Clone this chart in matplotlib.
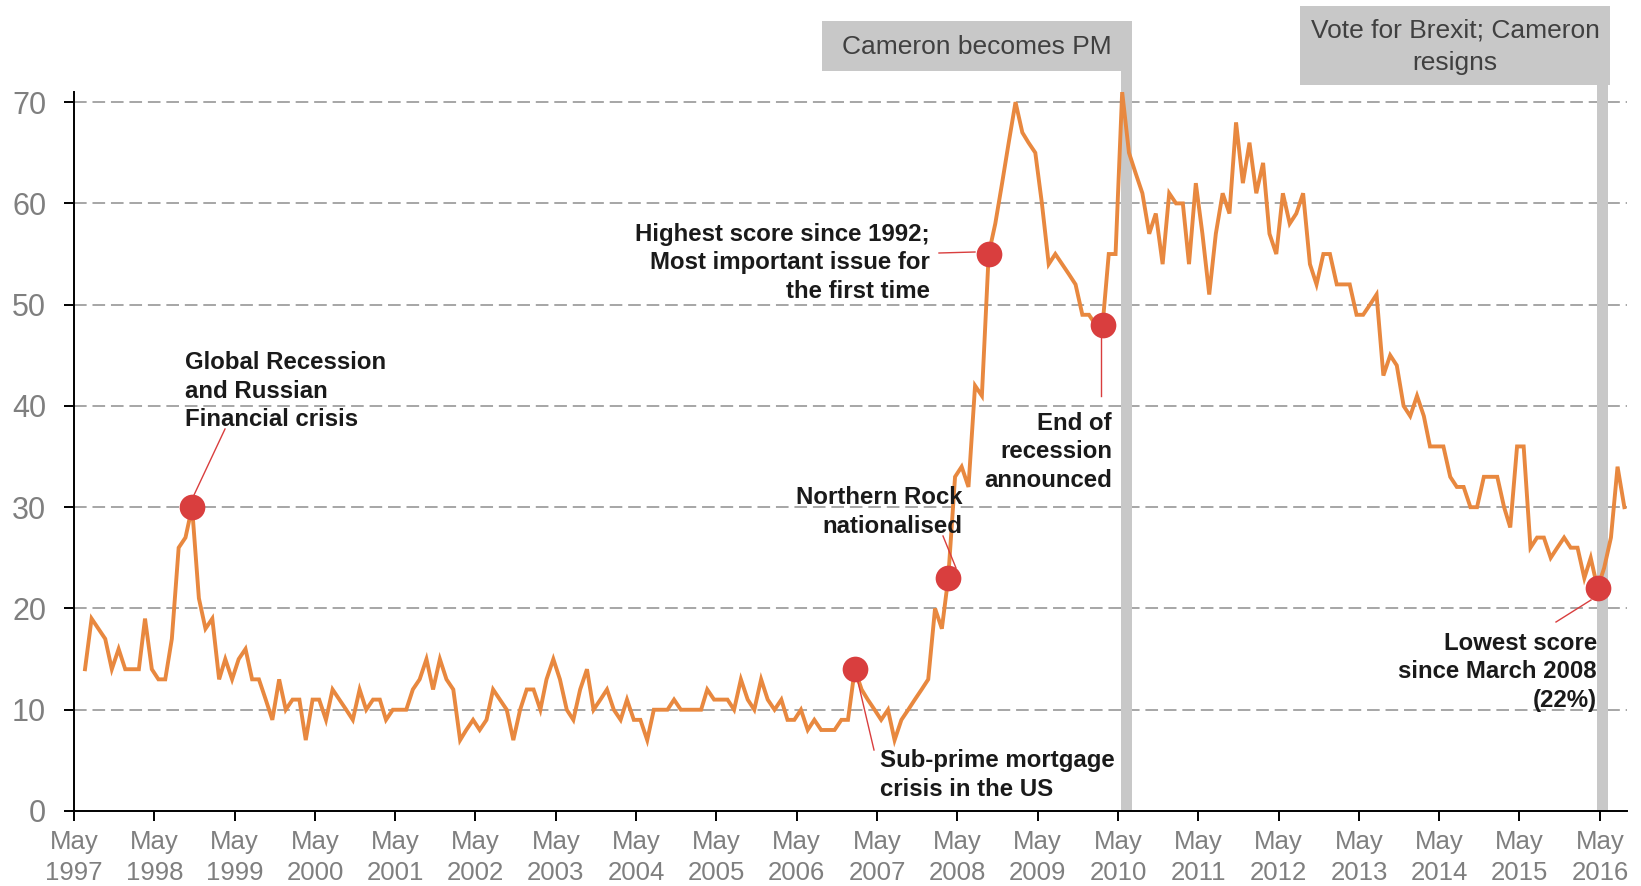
import numpy as np
import pandas as pd
import matplotlib
matplotlib.use("Agg")
import matplotlib.pyplot as plt
import matplotlib.dates as mdates
from matplotlib.patches import Rectangle

plt.rcParams['font.family'] = ['Liberation Sans', 'DejaVu Sans']

# share naming the economy as an important issue, monthly from mid 1997
scores = [14, 19, 18, 17, 14, 16, 14, 14, 14, 19,
          14, 13, 13, 17, 26, 27, 30, 21, 18, 19,
          13, 15, 13, 15, 16, 13, 13, 11, 9, 13,
          10, 11, 11, 7, 11, 11, 9, 12, 11, 10,
          9, 12, 10, 11, 11, 9, 10, 10, 10, 12,
          13, 15, 12, 15, 13, 12, 7, 8, 9, 8,
          9, 12, 11, 10, 7, 10, 12, 12, 10, 13,
          15, 13, 10, 9, 12, 14, 10, 11, 12, 10,
          9, 11, 9, 9, 7, 10, 10, 10, 11, 10,
          10, 10, 10, 12, 11, 11, 11, 10, 13, 11,
          10, 13, 11, 10, 11, 9, 9, 10, 8, 9,
          8, 8, 8, 9, 9, 14, 12, 11, 10, 9,
          10, 7, 9, 10, 11, 12, 13, 20, 18, 23,
          33, 34, 32, 42, 41, 55, 58, 62, 66, 70,
          67, 66, 65, 60, 54, 55, 54, 53, 52, 49,
          49, 48, 48, 55, 55, 71, 65, 63, 61, 57,
          59, 54, 61, 60, 60, 54, 62, 57, 51, 57,
          61, 59, 68, 62, 66, 61, 64, 57, 55, 61,
          58, 59, 61, 54, 52, 55, 55, 52, 52, 52,
          49, 49, 50, 51, 43, 45, 44, 40, 39, 41,
          39, 36, 36, 36, 33, 32, 32, 30, 30, 33,
          33, 33, 30, 28, 36, 36, 26, 27, 27, 25,
          26, 27, 26, 26, 23, 25, 22, 24, 27, 34, 30]
dates = pd.date_range('1997-06-20', periods=len(scores), freq=pd.DateOffset(months=1))

# highlighted months (index into scores)
highlight_idx = [16, 115, 129, 135, 152, 226]

events = [('Cameron becomes PM', pd.Timestamp('2010-06-07')),
          ('Vote for Brexit; Cameron\nresigns', pd.Timestamp('2016-05-12'))]

LINE = '#E8883F'
DOT = '#D93E3E'
BAND = '#C8C8C8'
GRID = '#A6A6A6'
TXT = '#1A1A1A'
TICK = '#7F7F7F'

W, H = 1641, 886
fig = plt.figure(figsize=(W / 100, H / 100), dpi=100)
ax_l, ax_r, ax_b, ax_t = 74, 1627, 811, 92
ax = fig.add_axes([ax_l / W, 1 - ax_b / H, (ax_r - ax_l) / W, (ax_b - ax_t) / H])


def apx(x, y):
    """pixel position in the image -> axes fraction"""
    return (x - ax_l) / (ax_r - ax_l), (ax_b - y) / (ax_b - ax_t)


ax.set_xlim(pd.Timestamp('1997-05-01'), pd.Timestamp('2016-09-01'))
ax.set_ylim(0, 71)

for v in range(10, 71, 10):
    ax.axhline(v, color=GRID, lw=1.4, dashes=(6.5, 3), zorder=1)

half = pd.Timedelta(days=25)
for label, d in events:
    ax.axvspan(d - half, d + half, ymin=0, ymax=1.04, color=BAND, lw=0,
               zorder=2, clip_on=False)

ax.plot(dates, scores, color=LINE, lw=2.8, zorder=3, solid_joinstyle='miter')
hd = [dates[i] for i in highlight_idx]
hv = [scores[i] for i in highlight_idx]
ax.plot(hd, hv, 'o', color=DOT, ms=18.5, mec='none', zorder=5)

# boxes above the plot
boxes = [(822, 21, 1132, 71), (1300, 6, 1610, 85)]
for (label, d), (x0, y0, x1, y1) in zip(events, boxes):
    fig.add_artist(Rectangle((x0 / W, 1 - y1 / H), (x1 - x0) / W, (y1 - y0) / H,
                             transform=fig.transFigure, color=BAND, lw=0, zorder=6))
    fig.text((x0 + x1) / 2 / W, 1 - (y0 + y1 + 2) / 2 / H, label, ha='center', va='center',
             fontsize=19, color='#404040', zorder=7, linespacing=1.45)

notes = [('Global Recession\nand Russian\nFinancial crisis', 185, 391, 'left', (225, 429), (194, 495)),
         ('Highest score since 1992;\nMost important issue for\nthe first time', 930, 263, 'right', (939, 253), (975, 252)),
         ('Northern Rock\nnationalised', 962, 512, 'right', (943, 536), (956, 568)),
         ('End of\nrecession\nannounced', 1112, 452, 'right', (1101, 330), (1101, 396)),
         ('Sub-prime mortgage\ncrisis in the US', 880, 775, 'left', (858, 682), (874, 750)),
         ('Lowest score\nsince March 2008\n(22%)', 1597, 672, 'right', (1591, 600), (1556, 622))]
for text, x, y, ha, p0, p1 in notes:
    ax.text(*apx(x, y), text, transform=ax.transAxes, ha=ha, va='center',
            fontsize=17.3, fontweight='bold', color=TXT, linespacing=1.33, zorder=6)
    (x0, y0), (x1, y1) = apx(*p0), apx(*p1)
    ax.plot([x0, x1], [y0, y1], transform=ax.transAxes, color=DOT, lw=1.0,
            zorder=4, clip_on=False)

ax.xaxis.set_major_locator(mdates.MonthLocator(bymonth=5, bymonthday=1))
ax.xaxis.set_major_formatter(mdates.DateFormatter('%b\n%Y'))
ax.set_yticks(range(0, 71, 10))
ax.tick_params(axis='x', length=7, width=1.4, color='black', labelsize=18.5,
               labelcolor=TICK, pad=7)
ax.tick_params(axis='y', length=7, width=1.4, color='black', labelsize=22,
               labelcolor=TICK, pad=13)
for lab in ax.get_xticklabels():
    lab.set_linespacing(1.32)

for s in ['top', 'right']:
    ax.spines[s].set_visible(False)
for s in ['left', 'bottom']:
    ax.spines[s].set_linewidth(1.4)
    ax.spines[s].set_color('black')
ax.patch.set_alpha(0)

fig.savefig('out.png', dpi=100, facecolor='white')
